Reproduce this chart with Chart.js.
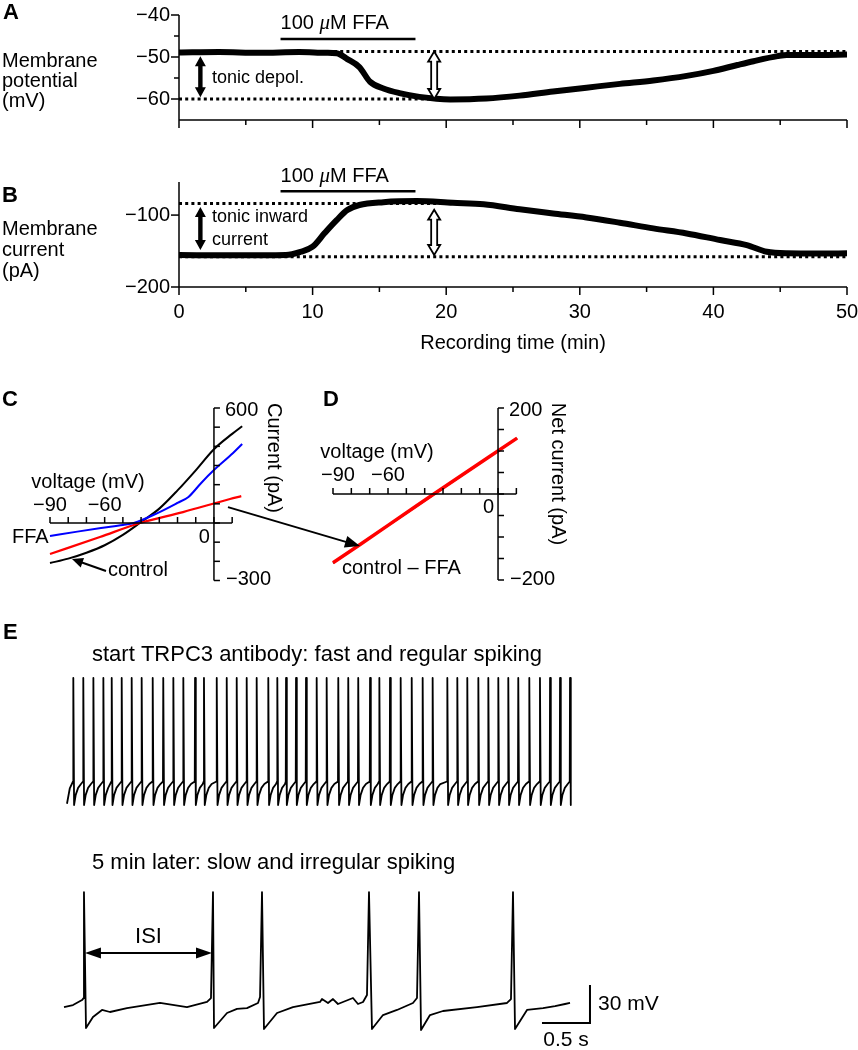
<!DOCTYPE html>
<html><head><meta charset="utf-8">
<script src="https://cdn.jsdelivr.net/npm/chart.js@4/dist/chart.umd.min.js"></script>
<style>
html,body{margin:0;padding:0;background:#fff;}
#wrap{position:relative;width:858px;height:1050px;overflow:hidden;background:#fff;}
#wrap canvas{position:absolute;left:0;top:0;}
</style></head><body><div id="wrap"></div>
<script>
// ---------------- DATA ----------------
// Panel A: membrane potential (mV) vs recording time (min)
const timeA = [0, 3, 6, 9, 11, 11.8, 12.6, 13.5, 14.3, 15.3, 16.5, 18, 20.3, 23, 25.5, 28, 30.5, 33, 35.5, 38, 40, 41.8, 43, 44.8, 45.5, 48, 50];
const potentialA = [-48.9, -48.8, -49.0, -48.8, -49.0, -49.1, -50.5, -52.4, -55.9, -57.5, -58.6, -59.5, -60.1, -59.9, -59.2, -58.2, -57.3, -56.4, -55.6, -54.5, -53.3, -51.9, -51.0, -49.8, -49.5, -49.5, -49.4];
const ticksA = [-40, -50, -60];
// Panel B: membrane current (pA) vs recording time (min)
const timeB = [0, 4, 8, 9.1, 10.0, 10.9, 11.8, 12.6, 13.5, 15.3, 17.8, 20.5, 22.8, 25.5, 28, 30.5, 33, 35.5, 38, 40.5, 42.5, 44, 45.5, 48, 50];
const currentB = [-155.6, -156, -155.5, -151, -144, -125, -107, -93, -86, -82, -80.5, -83, -85, -92, -97.7, -103.3, -110.6, -118.5, -125.5, -134.7, -141.7, -151, -153.2, -153.5, -153.2];
const ticksB = [-100, -200];
const timeTicks = [0, 10, 20, 30, 40, 50];
// FFA application (min)
const ffaStart = 7.6, ffaEnd = 17.7;
// reference levels
const levelsA = {high: -48.7, low: -60.0};
const levelsB = {high: -83.8, low: -157.9};

// Panel C: I-V ramps (mV, pA)
const voltC_control = [-90, -80, -70, -60, -50, -40, -30, -20, -10, 0, 10, 15.5];
const currC_control = [-209, -186, -155, -116, -62, 5, 75, 170, 275, 385, 465, 505];
const voltC_ffa = [-90, -75, -62, -50, -44, -31, -20, -14, -7, 0, 10.5, 15.5];
const currC_ffa = [-68, -45, -26, -10, 0, 52, 105, 136, 209, 276, 365, 412];
const voltC_diff = [-90, -62.6, -40.6, -17, 8.8, 15];
const currC_diff = [-162, -73, 0, 57, 125, 140];
// Panel D: net current (control - FFA) and linear fit
const voltD = [-90, -75, -60, -45, -35, -20, -5, 10.4];
const netD = [-160, -117, -73, -29, 0, 43, 86, 130];
const voltD_fit = [-90, 10.4];
const netD_fit = [-161, 130];

// Panel E: spikes (time in s, potential in mV)
const fastSpikeTimes = [0.097, 0.201, 0.306, 0.410, 0.497, 0.601, 0.705, 0.809, 0.924, 1.034, 1.139, 1.243, 1.365, 1.458, 1.591, 1.695, 1.799, 1.903, 2.007, 2.128, 2.222, 2.313, 2.417, 2.521, 2.632, 2.736, 2.857, 2.961, 3.065, 3.188, 3.285, 3.396, 3.507, 3.622, 3.736, 3.840, 3.993, 4.097, 4.201, 4.316, 4.420, 4.524, 4.628, 4.732, 4.847, 4.958, 5.063, 5.167, 5.271];
const fastPeak = 30;
const fastPre = -51.5;
const fastAfter = [[0.008, -70], [0.025, -62], [0.05, -56.5], [0.08, -53.5]];
const fastStart = [[0.031, -69], [0.06, -57]];
const slowT = [0, 0.094, 0.188, 0.204, 0.208, 0.229, 0.302, 0.396, 0.479, 0.656, 1.0, 1.281, 1.49, 1.531, 1.552, 1.5625, 1.698, 1.802, 1.906, 2.021, 2.042, 2.0625, 2.083, 2.219, 2.385, 2.667, 2.6875, 2.75, 2.802, 2.854, 3.010, 3.0625, 3.115, 3.156, 3.177, 3.208, 3.323, 3.469, 3.635, 3.677, 3.698, 3.719, 3.8125, 3.948, 4.302, 4.615, 4.656, 4.677, 4.698, 4.823, 4.990, 5.115, 5.219, 5.271];
const slowV = [-53.5, -51.9, -48, -46.5, 37, -70, -61.3, -55.8, -57.4, -54.3, -50.3, -53.5, -49.5, -46.4, 37, -70, -58.2, -55, -54.3, -50.3, -45.6, 37, -70.8, -58.2, -53.5, -49.5, -47.2, -50.3, -47.2, -51.1, -46.4, -51.1, -49.5, -44, 37, -70.8, -59.8, -55.8, -50.3, -46.4, 37, -71.6, -59.8, -56.6, -53.5, -50.3, -47.2, 37, -70.8, -55.8, -54.3, -52.7, -51.1, -50.3];
const isiFrom = 0.208, isiTo = 1.552;
const scaleBarT = [4.979, 5.479, 5.479];
const scaleBarV = [-66.1, -66.1, -36.1];

// ---------------- HELPERS ----------------
const W = 858, H = 1050;
const FF = '"Liberation Sans", Arial, Helvetica, sans-serif';
function pts(xs, ys) { return xs.map((x, i) => ({x: x, y: ys[i]})); }
function lineDS(data, color, width, extra) {
  return Object.assign({data: data, borderColor: color, backgroundColor: color, borderWidth: width,
    pointRadius: 0, showLine: true, tension: 0, clip: false, fill: false, borderJoinStyle: 'round'}, extra || {});
}
function makeChart(area, xr, yr, datasets, draw) {
  const c = document.createElement('canvas');
  c.width = W; c.height = H; c.style.width = W + 'px'; c.style.height = H + 'px';
  document.getElementById('wrap').appendChild(c);
  return new Chart(c, {
    type: 'scatter', data: {datasets: datasets},
    options: {responsive: false, animation: false, devicePixelRatio: 1, events: [],
      layout: {padding: {left: area[0], top: area[1], right: W - area[2], bottom: H - area[3]}},
      scales: {x: {type: 'linear', display: false, min: xr[0], max: xr[1]},
               y: {type: 'linear', display: false, min: yr[0], max: yr[1]}},
      plugins: {legend: {display: false}, tooltip: {enabled: false}}},
    plugins: [{id: 'deco', afterDraw(ch) {
      const sx = v => ch.scales.x.getPixelForValue(v), sy = v => ch.scales.y.getPixelForValue(v);
      ch.ctx.save(); draw(ch.ctx, sx, sy); ch.ctx.restore();
    }}]
  });
}
function txt(ctx, s, x, y, size, align, o) {
  o = o || {};
  ctx.save();
  ctx.font = (o.italic ? 'italic ' : '') + (o.bold ? 'bold ' : '') + size + 'px ' + (o.family || FF);
  ctx.fillStyle = '#000'; ctx.textAlign = align || 'left'; ctx.textBaseline = 'middle';
  if (o.rot) { ctx.translate(x, y); ctx.rotate(o.rot); ctx.fillText(s, 0, 0); }
  else ctx.fillText(s, x, y);
  ctx.restore();
}
function seg(ctx, x1, y1, x2, y2, lw) {
  ctx.save(); ctx.strokeStyle = '#000'; ctx.lineWidth = lw || 1.5; ctx.lineCap = 'butt';
  ctx.beginPath(); ctx.moveTo(x1, y1); ctx.lineTo(x2, y2); ctx.stroke(); ctx.restore();
}
function vDoubleArrow(ctx, x, yt, yb, hollow) {
  const hw = hollow ? 6 : 5.5, sw = hollow ? 3 : 2.2, hl = 10;
  const p = [[x, yt], [x + hw, yt + hl], [x + sw, yt + hl], [x + sw, yb - hl], [x + hw, yb - hl], [x, yb],
             [x - hw, yb - hl], [x - sw, yb - hl], [x - sw, yt + hl], [x - hw, yt + hl]];
  ctx.save(); ctx.beginPath(); p.forEach((q, i) => i ? ctx.lineTo(q[0], q[1]) : ctx.moveTo(q[0], q[1])); ctx.closePath();
  if (hollow) { ctx.fillStyle = '#fff'; ctx.fill(); ctx.lineWidth = 1.8; ctx.strokeStyle = '#000'; ctx.lineJoin = 'miter'; ctx.stroke(); }
  else { ctx.fillStyle = '#000'; ctx.fill(); }
  ctx.restore();
}
function arrowHead(ctx, x1, y1, x2, y2, hl, hw) {
  const a = Math.atan2(y2 - y1, x2 - x1), c = Math.cos(a), s = Math.sin(a);
  ctx.save(); ctx.fillStyle = '#000'; ctx.beginPath(); ctx.moveTo(x2, y2);
  ctx.lineTo(x2 - hl * c + hw * s, y2 - hl * s - hw * c);
  ctx.lineTo(x2 - hl * c - hw * s, y2 - hl * s + hw * c);
  ctx.closePath(); ctx.fill(); ctx.restore();
}
function arrow(ctx, x1, y1, x2, y2, lw, hl, hw) {
  const a = Math.atan2(y2 - y1, x2 - x1);
  seg(ctx, x1, y1, x2 - (hl - 2) * Math.cos(a), y2 - (hl - 2) * Math.sin(a), lw);
  arrowHead(ctx, x1, y1, x2, y2, hl, hw);
}
function ffaLabel(ctx, lx, cy) {
  const parts = [['100 ', 0], ['\u03bc', 1], ['M FFA', 0]];
  ctx.save(); ctx.textBaseline = 'middle'; ctx.textAlign = 'left'; ctx.fillStyle = '#000';
  const fnt = p => p[1] ? 'italic 21px "Liberation Serif", "DejaVu Serif", serif' : '20px ' + FF;
  const ws = parts.map(p => { ctx.font = fnt(p); return ctx.measureText(p[0]).width; });
  let x = lx;
  parts.forEach((p, i) => { ctx.font = fnt(p); ctx.fillText(p[0], x, cy); x += ws[i]; });
  ctx.restore();
}
const M = '\u2212';
function lab(v) { return v < 0 ? M + Math.abs(v) : String(v); }
const smooth = {cubicInterpolationMode: 'monotone'};

// ---------------- PANEL A ----------------
makeChart([179, 15, 847, 120], [0, 50], [-65, -40], [
  lineDS(pts([0, 50], [levelsA.high, levelsA.high]), '#000', 3, {borderDash: [3, 3.2], borderCapStyle: 'butt'}),
  lineDS(pts([0, 19.5], [levelsA.low, levelsA.low]), '#000', 3, {borderDash: [3, 3.2], borderCapStyle: 'butt'}),
  lineDS(pts([ffaStart, ffaEnd], [-45.7, -45.7]), '#000', 2.5),
  lineDS(pts(timeA, potentialA), '#000', 6, smooth)
], (ctx, sx, sy) => {
  const x0 = sx(0), yb = sy(-65);
  seg(ctx, x0, sy(-40), x0, yb, 1.5);
  seg(ctx, x0, yb, sx(50), yb, 1.5);
  for (let v = -40; v >= -60; v -= 5) seg(ctx, x0 - (v % 10 === 0 ? 8 : 5), sy(v), x0, sy(v), 1.5);
  ticksA.forEach(v => txt(ctx, lab(v), 170, sy(v), 20, 'right'));
  for (let t = 0; t <= 50; t += 5) seg(ctx, sx(t), yb, sx(t), yb + (t % 10 === 0 ? 8 : 5), 1.5);
  ffaLabel(ctx, sx(ffaStart), 23);
  vDoubleArrow(ctx, sx(1.6), sy(-49.8), sy(-59.6), false);
  vDoubleArrow(ctx, sx(19.1), sy(levelsA.high), sy(levelsA.low), true);
  txt(ctx, 'tonic depol.', 212, sy(-55), 18, 'left');
  txt(ctx, 'A', 3, 13, 22, 'left', {bold: true});
  txt(ctx, 'Membrane', 2, 61, 20);
  txt(ctx, 'potential', 2, 81, 20);
  txt(ctx, '(mV)', 2, 101, 20);
});

// ---------------- PANEL B ----------------
makeChart([179, 182, 847, 287], [0, 50], [-200, -54], [
  lineDS(pts([0, 21], [levelsB.high, levelsB.high]), '#000', 3, {borderDash: [3, 3.2], borderCapStyle: 'butt'}),
  lineDS(pts([0, 50], [levelsB.low, levelsB.low]), '#000', 3, {borderDash: [3, 3.2], borderCapStyle: 'butt'}),
  lineDS(pts([ffaStart, ffaEnd], [-66.7, -66.7]), '#000', 2.5),
  lineDS(pts(timeB, currentB), '#000', 6, smooth)
], (ctx, sx, sy) => {
  const x0 = sx(0), yb = sy(-200);
  seg(ctx, x0, sy(-54), x0, yb, 1.5);
  seg(ctx, x0, yb, sx(50), yb, 1.5);
  ticksB.forEach(v => { seg(ctx, x0 - 8, sy(v), x0, sy(v), 1.5); txt(ctx, lab(v), 170, sy(v), 20, 'right'); });
  for (let t = 0; t <= 50; t += 5) seg(ctx, sx(t), yb, sx(t), yb + (t % 10 === 0 ? 8 : 5), 1.5);
  timeTicks.forEach(t => txt(ctx, String(t), sx(t), 312, 20, 'center'));
  txt(ctx, 'Recording time (min)', 513, 343, 20, 'center');
  ffaLabel(ctx, sx(ffaStart), 176);
  vDoubleArrow(ctx, sx(1.6), sy(-88.9), sy(-148.6), false);
  vDoubleArrow(ctx, sx(19.1), sy(-92.5), sy(-155.5), true);
  txt(ctx, 'tonic inward', 212, 217, 18, 'left');
  txt(ctx, 'current', 212, 240, 18, 'left');
  txt(ctx, 'B', 2, 196, 22, 'left', {bold: true});
  txt(ctx, 'Membrane', 2, 229, 20);
  txt(ctx, 'current', 2, 250, 20);
  txt(ctx, '(pA)', 2, 271, 20);
});

// ---------------- PANEL C ----------------
const chartC = makeChart([50, 408, 243.1, 580.5], [-90, 16], [-300, 600], [
  lineDS(pts(voltC_ffa, currC_ffa), '#0000ff', 2, smooth),
  lineDS(pts(voltC_diff, currC_diff), '#ff0000', 2.2, smooth),
  lineDS(pts(voltC_control, currC_control), '#000', 2, smooth)
], (ctx, sx, sy) => {
  const x0 = sx(0), y0 = sy(0);
  seg(ctx, sx(-90), y0, sx(10), y0, 1.5);
  for (let v = -90; v <= 10; v += 10) seg(ctx, sx(v), y0, sx(v), y0 - 6, 1.5);
  seg(ctx, x0, sy(600), x0, sy(-300), 1.5);
  for (let i = 600; i >= -300; i -= 100) seg(ctx, x0, sy(i), x0 + 6, sy(i), 1.5);
  txt(ctx, lab(-90), sx(-90), 505, 20, 'center');
  txt(ctx, lab(-60), sx(-60), 505, 20, 'center');
  txt(ctx, '0', x0 - 4, 537, 20, 'right');
  txt(ctx, '600', x0 + 11, sy(600) + 2, 20, 'left');
  txt(ctx, lab(-300), x0 + 12, sy(-300) - 1, 20, 'left');
  txt(ctx, 'voltage (mV)', 88, 482, 20, 'center');
  txt(ctx, 'Current (pA)', 274, 458, 20, 'center', {rot: Math.PI / 2});
  txt(ctx, 'FFA', 12, 537, 20, 'left');
  txt(ctx, 'control', 108, 570, 20, 'left');
  arrow(ctx, 106, 571, 72, 559, 2, 11, 5);
  txt(ctx, 'C', 2, 400, 22, 'left', {bold: true});
});

// ---------------- PANEL D ----------------
makeChart([333, 408, 518.2, 580], [-90, 11], [-200, 200], [
  lineDS(pts(voltD, netD), '#ff0000', 3.5),
  lineDS(pts(voltD_fit, netD_fit), '#000', 1.5)
], (ctx, sx, sy) => {
  const x0 = sx(0), y0 = sy(0);
  seg(ctx, sx(-90), y0, sx(10), y0, 1.5);
  for (let v = -90; v <= 10; v += 10) seg(ctx, sx(v), y0, sx(v), y0 - 6, 1.5);
  seg(ctx, x0, sy(200), x0, sy(-200), 1.5);
  for (let i = 200; i >= -200; i -= 50) seg(ctx, x0, sy(i), x0 + 6, sy(i), 1.5);
  txt(ctx, lab(-90), sx(-90) + 5, 475, 20, 'center');
  txt(ctx, lab(-60), sx(-60), 475, 20, 'center');
  txt(ctx, '0', x0 - 4, 507, 20, 'right');
  txt(ctx, '200', x0 + 11, sy(200) + 2, 20, 'left');
  txt(ctx, lab(-200), x0 + 12, sy(-200) - 1, 20, 'left');
  txt(ctx, 'voltage (mV)', 377, 452, 20, 'center');
  txt(ctx, 'Net current (pA)', 558, 474, 20, 'center', {rot: Math.PI / 2});
  txt(ctx, 'control ' + '\u2013' + ' FFA', 342, 568, 20, 'left');
  txt(ctx, 'D', 323, 400, 22, 'left', {bold: true});
  // arrow from panel C red trace end to panel D trace
  const cx = chartC.scales.x.getPixelForValue(7.7), cy = chartC.scales.y.getPixelForValue(83);
  arrow(ctx, cx, cy, sx(-75.3), sy(-121), 2, 15, 6);
});

// ---------------- PANEL E ----------------
const fastPts = fastStart.map(p => ({x: p[0], y: p[1]}));
fastSpikeTimes.forEach((t, i) => {
  fastPts.push({x: t - 0.003, y: fastPre}, {x: t, y: fastPeak});
  const next = fastSpikeTimes[i + 1];
  fastAfter.forEach(p => {
    if (next === undefined ? p === fastAfter[0] : t + p[0] < next - 0.008) fastPts.push({x: t + p[0], y: p[1]});
  });
});
makeChart([64, 678, 601.6, 805], [0, 5.6], [-70, 30], [
  lineDS(fastPts, '#000', 1.8)
], (ctx, sx, sy) => {
  txt(ctx, 'E', 3, 633, 22, 'left', {bold: true});
  txt(ctx, 'start TRPC3 antibody: fast and regular spiking', 92, 655, 22, 'left');
});
makeChart([64, 892, 601.6, 1028], [0, 5.6], [-70, 37.1], [
  lineDS(pts(slowT, slowV), '#000', 1.8),
  lineDS(pts(scaleBarT, scaleBarV), '#000', 2, {borderJoinStyle: 'miter'})
], (ctx, sx, sy) => {
  txt(ctx, '5 min later: slow and irregular spiking', 92, 863, 22, 'left');
  const ya = sy(-10.9);
  const xa = sx(isiFrom) + 1, xb = sx(isiTo) - 1;
  seg(ctx, xa + 10, ya, xb - 10, ya, 2);
  arrowHead(ctx, xb, ya, xa, ya, 16, 5.5);
  arrowHead(ctx, xa, ya, xb, ya, 16, 5.5);
  txt(ctx, 'ISI', (xa + xb) / 2, sy(1.65), 22, 'center');
  txt(ctx, '30 mV', sx(scaleBarT[2]) + 8, sy(-51.1), 21, 'left');
  txt(ctx, '0.5 s', (sx(scaleBarT[0]) + sx(scaleBarT[1])) / 2, 1040, 21, 'center');
});
</script></body></html>
